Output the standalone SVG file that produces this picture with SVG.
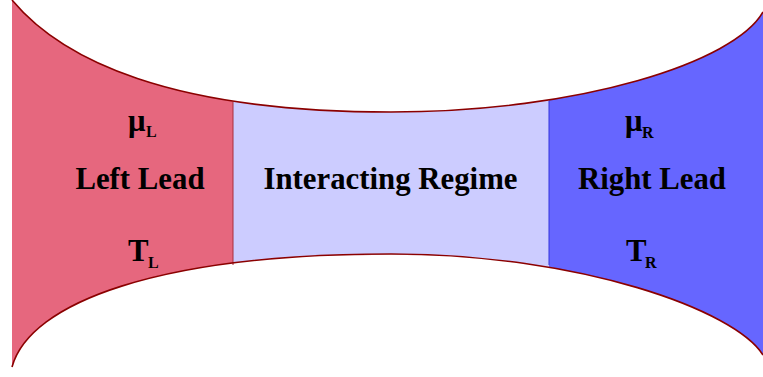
<svg xmlns="http://www.w3.org/2000/svg" width="763" height="377" viewBox="0 0 763 377">
  <style>
    .lbl { font-family: "Liberation Serif", "Times New Roman", serif; font-weight: bold; fill: #000; }
    .big { font-size: 30.8px; }
    .sub { font-size: 16px; }
    .edge { fill: none; stroke: #8b0000; stroke-width: 1.6; }
  </style>
  <defs>
    <clipPath id="shape">
      <path d="M12,0 C62,60 170,112 391,112 C580,112 735,62 763,12 L763,355 C735,310 580,254 391,254 C160,254 30,302 12,367 Z"/>
    </clipPath>
  </defs>
  <rect width="763" height="377" fill="#ffffff"/>
  <g id="left-lead">
    <rect x="12" y="0" width="221" height="377" fill="#e6677e" clip-path="url(#shape)"/>
    <text class="lbl big" x="128" y="131">μ</text>
    <text class="lbl sub" x="146" y="137">L</text>
    <text class="lbl big" x="140" y="189" text-anchor="middle">Left Lead</text>
    <text class="lbl big" x="128" y="261">T</text>
    <text class="lbl sub" x="148" y="268">L</text>
  </g>
  <g id="interacting-regime">
    <rect x="233" y="0" width="316" height="377" fill="#ccccff" clip-path="url(#shape)"/>
    <text class="lbl big" x="390.5" y="189" text-anchor="middle">Interacting Regime</text>
  </g>
  <g id="right-lead">
    <rect x="549" y="0" width="214" height="377" fill="#6666ff" clip-path="url(#shape)"/>
    <text class="lbl big" x="625" y="131">μ</text>
    <text class="lbl sub" x="642" y="138">R</text>
    <text class="lbl big" x="652" y="189" text-anchor="middle">Right Lead</text>
    <text class="lbl big" x="626" y="261">T</text>
    <text class="lbl sub" x="645" y="268">R</text>
  </g>
  <g id="connectors">
    <line x1="233" y1="102" x2="233" y2="265" stroke="#a8303e" stroke-width="1"/>
    <line x1="549" y1="101" x2="549" y2="265" stroke="#3333dd" stroke-width="1"/>
    <path class="edge" d="M12,0 C62,60 170,112 391,112 C580,112 735,62 763,12"/>
    <path class="edge" d="M12,367 C30,302 160,254 391,254 C580,254 735,310 763,355"/>
  </g>
</svg>
